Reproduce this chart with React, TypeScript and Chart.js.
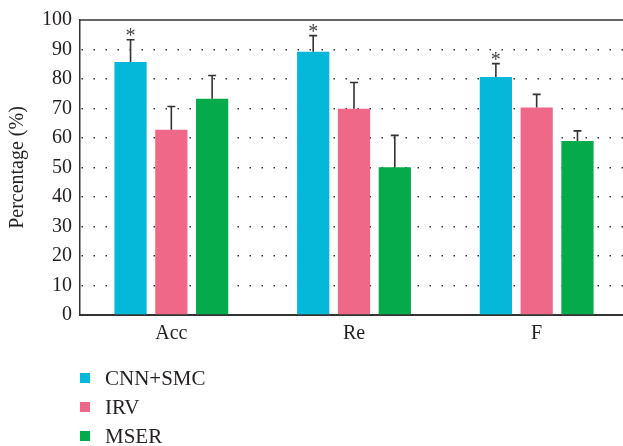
import React, { useEffect, useRef } from "react";
import { Chart, registerables } from "chart.js";

Chart.register(...registerables);

const categories = ["Acc", "Re", "F"];
const seriesNames = ["CNN+SMC", "IRV", "MSER"];
const cnnValues = [85.8, 89.2, 80.7];
const cnnErrors = [7.5, 5.5, 4.5];
const irvValues = [62.8, 69.9, 70.3];
const irvErrors = [7.9, 8.9, 4.5];
const mserValues = [73.3, 50.1, 59.0];
const mserErrors = [7.9, 10.8, 3.4];
const significant = [true, true, true];
const yTicks = [0, 10, 20, 30, 40, 50, 60, 70, 80, 90, 100];

const colors = ["#05b7d9", "#ef6888", "#05ab4b"];
const FONT = "'Liberation Serif', 'Times New Roman', serif";
const TEXT = "#231f20";

const errorBarPlugin = {
  id: "errorBars",
  afterDatasetsDraw(chart: any) {
    const ctx = chart.ctx;
    const yScale = chart.scales.y;
    chart.data.datasets.forEach((ds: any, di: number) => {
      const meta = chart.getDatasetMeta(di);
      meta.data.forEach((bar: any, i: number) => {
        const v = ds.data[i];
        const e = ds.errors[i];
        const yTop = yScale.getPixelForValue(v + e);
        ctx.save();
        ctx.strokeStyle = "#333";
        ctx.lineWidth = 1.6;
        ctx.beginPath();
        ctx.moveTo(bar.x, bar.y);
        ctx.lineTo(bar.x, yTop);
        ctx.moveTo(bar.x - 4, yTop);
        ctx.lineTo(bar.x + 4, yTop);
        ctx.stroke();
        if (di === 0 && significant[i]) {
          ctx.fillStyle = "#444";
          ctx.font = `20px ${FONT}`;
          ctx.textAlign = "center";
          ctx.textBaseline = "alphabetic";
          ctx.fillText("*", bar.x, yTop + 2);
        }
        ctx.restore();
      });
    });
  },
};

const framePlugin = {
  id: "frame",
  afterDraw(chart: any) {
    const ctx = chart.ctx;
    const a = chart.chartArea;
    ctx.save();
    ctx.strokeStyle = "#333";
    ctx.lineWidth = 1.5;
    ctx.beginPath();
    ctx.moveTo(a.left, a.top);
    ctx.lineTo(chart.width, a.top);
    ctx.stroke();
    // legend
    ctx.font = `21px ${FONT}`;
    ctx.textBaseline = "middle";
    ctx.textAlign = "left";
    chart.data.datasets.forEach((ds: any, i: number) => {
      const cy = 378 + i * 29;
      ctx.fillStyle = ds.backgroundColor;
      ctx.fillRect(80, cy - 5, 10, 10);
      ctx.fillStyle = TEXT;
      ctx.fillText(ds.label, 105, cy + 1);
    });
    ctx.restore();
  },
};

export default function App() {
  const ref = useRef<HTMLCanvasElement>(null);
  useEffect(() => {
    document.body.style.margin = "0";
    const values = [cnnValues, irvValues, mserValues];
    const errors = [cnnErrors, irvErrors, mserErrors];
    const chart = new Chart(ref.current!, {
      type: "bar",
      data: {
        labels: categories,
        datasets: seriesNames.map((name, i) => ({
          label: name,
          data: values[i],
          errors: errors[i],
          backgroundColor: colors[i],
          borderWidth: 0,
          categoryPercentage: 0.67,
          barPercentage: 0.79,
        })) as any,
      },
      options: {
        responsive: false,
        animation: false,
        layout: { padding: { left: 0, right: 0, top: 19, bottom: 0 } },
        plugins: {
          legend: { display: false },
          tooltip: { enabled: false },
        },
        scales: {
          x: {
            grid: { display: false, drawTicks: false },
            border: { display: true, color: "#333", width: 2 },
            ticks: {
              color: TEXT,
              font: { family: FONT, size: 20 },
              padding: 7,
            },
            afterFit: (s: any) => {
              s.height = 131;
            },
          },
          y: {
            min: 0,
            max: 100,
            afterBuildTicks: (s: any) => {
              s.ticks = yTicks.map((v) => ({ value: v }));
            },
            grid: {
              drawTicks: false,
              color: (c: any) =>
                c.tick && (c.tick.value === 0 || c.tick.value === 100)
                  ? "rgba(0,0,0,0)"
                  : "#333",
              lineWidth: 1.5,
            },
            border: {
              display: true,
              color: "#333",
              width: 1.5,
              dash: [1.5, 10.5],
              dashOffset: -1,
            },
            ticks: {
              color: TEXT,
              font: { family: FONT, size: 20 },
              padding: 8,
            },
            title: {
              display: true,
              text: "Percentage (%)",
              color: TEXT,
              font: { family: FONT, size: 20 },
              padding: { top: 6, bottom: 0 },
            },
            afterFit: (s: any) => {
              s.width = 80;
            },
          },
        },
      },
      plugins: [errorBarPlugin, framePlugin],
    });
    return () => chart.destroy();
  }, []);
  return (
    <div style={{ width: 623, height: 446, overflow: "hidden" }}>
      <canvas ref={ref} width={628} height={446} style={{ display: "block" }} />
    </div>
  );
}
